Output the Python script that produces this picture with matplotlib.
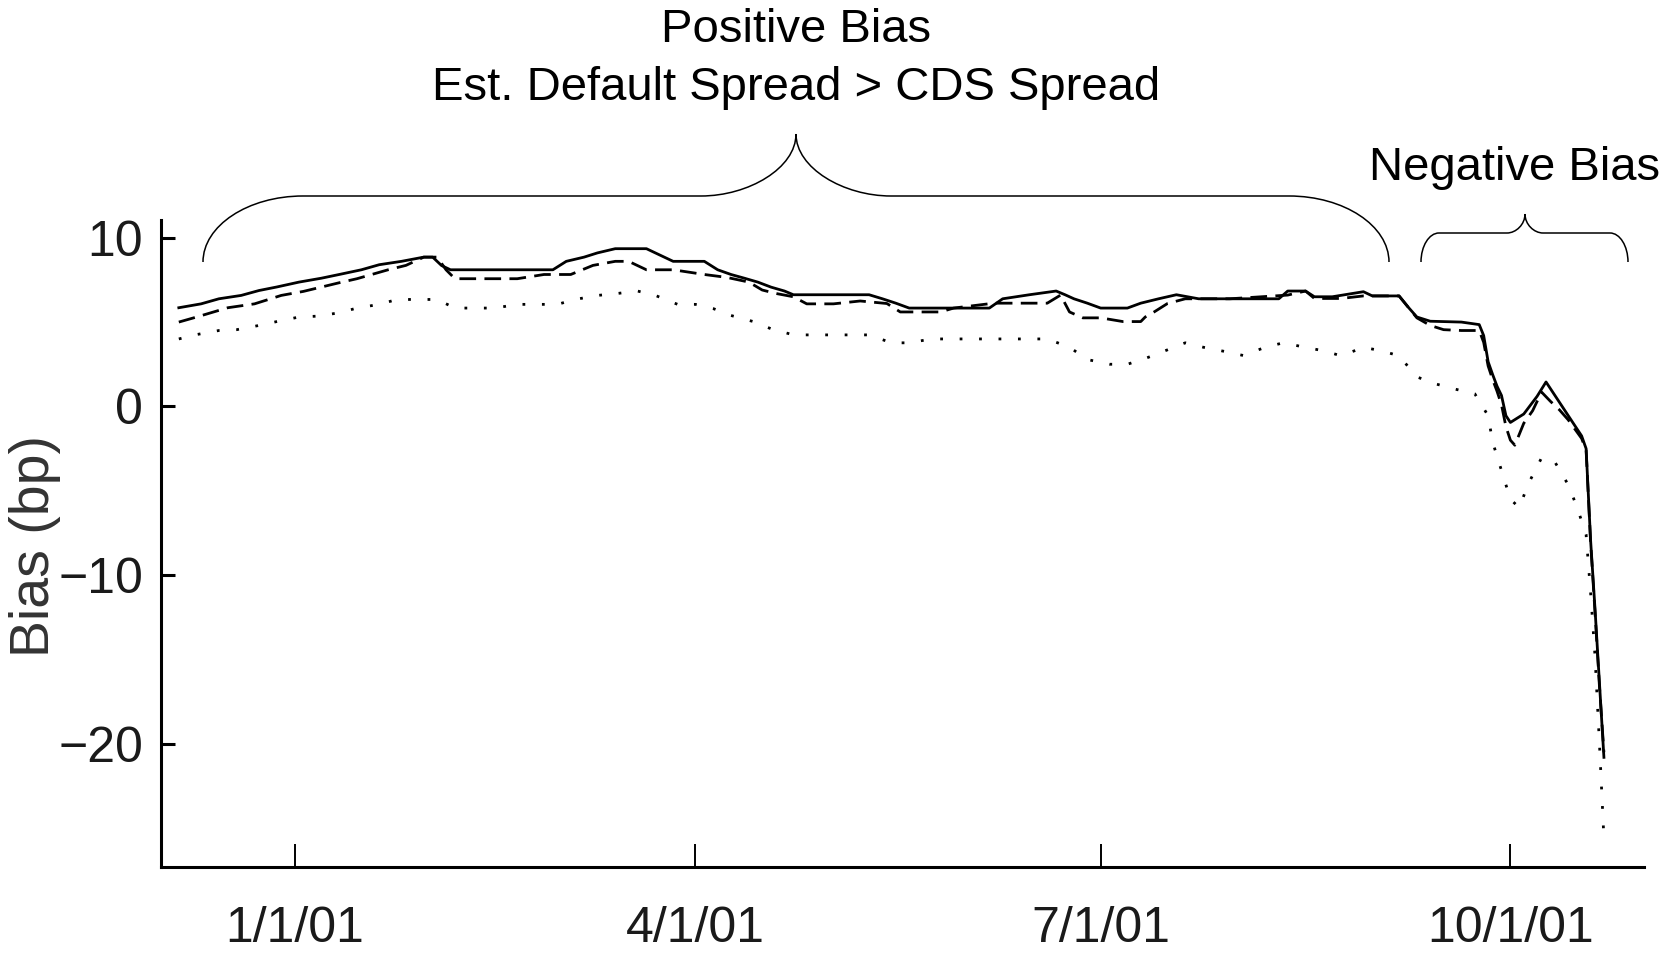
import matplotlib
matplotlib.use("Agg")
import matplotlib.pyplot as plt
from matplotlib.path import Path
from matplotlib.patches import PathPatch
import pandas as pd

# serie 1 (linha cheia)
solid_dates = ["2000-12-06", "2000-12-11", "2000-12-15", "2000-12-20", "2000-12-24", "2000-12-28",
               "2001-01-02", "2001-01-07", "2001-01-11", "2001-01-16", "2001-01-20", "2001-01-25",
               "2001-01-30", "2001-02-01", "2001-02-03", "2001-02-05", "2001-02-28", "2001-03-03",
               "2001-03-07", "2001-03-10", "2001-03-14", "2001-03-21", "2001-03-23", "2001-03-27",
               "2001-04-03", "2001-04-06", "2001-04-09", "2001-04-12", "2001-04-15", "2001-04-18",
               "2001-04-21", "2001-04-23", "2001-05-10", "2001-05-13", "2001-05-16", "2001-05-19",
               "2001-06-06", "2001-06-09", "2001-06-15", "2001-06-21", "2001-06-23", "2001-06-25",
               "2001-06-28", "2001-07-01", "2001-07-07", "2001-07-10", "2001-07-14", "2001-07-18",
               "2001-07-23", "2001-08-10", "2001-08-12", "2001-08-16", "2001-08-18", "2001-08-22",
               "2001-08-29", "2001-08-31", "2001-09-06", "2001-09-08", "2001-09-10", "2001-09-13",
               "2001-09-20", "2001-09-24", "2001-09-25", "2001-09-26", "2001-09-27", "2001-09-28",
               "2001-09-29", "2001-09-30", "2001-10-01", "2001-10-04", "2001-10-07", "2001-10-09",
               "2001-10-11", "2001-10-14", "2001-10-17", "2001-10-18", "2001-10-19", "2001-10-20",
               "2001-10-21", "2001-10-22"]
solid_bias = [5.85, 6.08, 6.38, 6.58, 6.87, 7.08,
              7.37, 7.6, 7.82, 8.1, 8.4, 8.6,
              8.85, 8.85, 8.35, 8.1, 8.1, 8.6,
              8.85, 9.1, 9.35, 9.35, 9.1, 8.6,
              8.6, 8.1, 7.82, 7.6, 7.37, 7.07,
              6.84, 6.62, 6.62, 6.38, 6.12, 5.83,
              5.83, 6.38, 6.62, 6.84, 6.62, 6.38,
              6.12, 5.83, 5.83, 6.12, 6.38, 6.62,
              6.38, 6.38, 6.84, 6.84, 6.5, 6.5,
              6.8, 6.55, 6.55, 5.9, 5.3, 5.05,
              5.0, 4.85, 4.2, 2.65, 1.9, 1.2,
              0.65, -0.55, -0.95, -0.45, 0.6, 1.45,
              0.65, -0.55, -1.75, -2.5, -7.9, -12.0,
              -16.4, -20.8]

# serie 2 (tracejada)
dashed_dates = ["2000-12-06", "2000-12-10", "2000-12-17", "2000-12-23", "2000-12-29", "2001-01-03",
                "2001-01-11", "2001-01-15", "2001-01-22", "2001-01-26", "2001-01-30", "2001-02-02",
                "2001-02-04", "2001-02-06", "2001-02-20", "2001-02-26", "2001-03-04", "2001-03-09",
                "2001-03-14", "2001-03-17", "2001-03-21", "2001-03-27", "2001-04-03", "2001-04-08",
                "2001-04-13", "2001-04-16", "2001-04-19", "2001-04-23", "2001-04-26", "2001-05-02",
                "2001-05-08", "2001-05-14", "2001-05-17", "2001-05-26", "2001-05-29", "2001-06-07",
                "2001-06-19", "2001-06-22", "2001-06-24", "2001-06-27", "2001-07-01", "2001-07-06",
                "2001-07-10", "2001-07-11", "2001-07-13", "2001-07-16", "2001-07-20", "2001-07-30",
                "2001-08-12", "2001-08-16", "2001-08-18", "2001-08-24", "2001-08-29", "2001-09-06",
                "2001-09-08", "2001-09-10", "2001-09-13", "2001-09-16", "2001-09-20", "2001-09-24",
                "2001-09-25", "2001-09-26", "2001-09-27", "2001-09-28", "2001-09-29", "2001-09-30",
                "2001-10-01", "2001-10-02", "2001-10-04", "2001-10-06", "2001-10-08", "2001-10-10",
                "2001-10-12", "2001-10-14", "2001-10-17", "2001-10-18", "2001-10-19", "2001-10-20",
                "2001-10-21", "2001-10-22"]
dashed_bias = [5.0, 5.3, 5.85, 6.08, 6.58, 6.82,
               7.33, 7.57, 8.1, 8.36, 8.85, 8.85,
               8.1, 7.57, 7.57, 7.82, 7.82, 8.36,
               8.6, 8.6, 8.1, 8.1, 7.82, 7.65,
               7.37, 6.9, 6.7, 6.5, 6.08, 6.08,
               6.25, 6.1, 5.6, 5.6, 5.83, 6.12,
               6.12, 6.6, 5.6, 5.25, 5.25, 5.03,
               5.03, 5.3, 5.6, 6.1, 6.38, 6.38,
               6.6, 6.84, 6.4, 6.4, 6.55, 6.55,
               5.9, 5.25, 4.8, 4.55, 4.5, 4.5,
               3.8, 2.4, 1.6, 0.9, 0.1, -1.2,
               -2.0, -2.3, -1.0, -0.25, 0.85, 0.3,
               -0.2, -0.8, -1.9, -2.6, -8.0, -12.2,
               -16.6, -20.5]

# serie 3 (pontilhada)
dotted_dates = ["2000-12-06", "2000-12-10", "2000-12-15", "2000-12-19", "2000-12-24", "2000-12-28",
                "2001-01-02", "2001-01-06", "2001-01-11", "2001-01-15", "2001-01-20", "2001-01-24",
                "2001-02-02", "2001-02-06", "2001-02-15", "2001-02-20", "2001-03-01", "2001-03-05",
                "2001-03-10", "2001-03-14", "2001-03-19", "2001-03-23", "2001-03-28", "2001-04-01",
                "2001-04-05", "2001-04-09", "2001-04-14", "2001-04-18", "2001-04-23", "2001-05-10",
                "2001-05-15", "2001-05-19", "2001-05-24", "2001-06-19", "2001-06-24", "2001-06-28",
                "2001-07-03", "2001-07-07", "2001-07-11", "2001-07-15", "2001-07-20", "2001-07-24",
                "2001-07-29", "2001-08-02", "2001-08-07", "2001-08-11", "2001-08-16", "2001-08-20",
                "2001-08-24", "2001-08-29", "2001-09-02", "2001-09-06", "2001-09-10", "2001-09-14",
                "2001-09-19", "2001-09-23", "2001-09-26", "2001-09-27", "2001-09-29", "2001-10-01",
                "2001-10-03", "2001-10-05", "2001-10-08", "2001-10-11", "2001-10-14", "2001-10-16",
                "2001-10-18", "2001-10-19", "2001-10-20", "2001-10-21", "2001-10-22"]
dotted_bias = [4.0, 4.26, 4.5, 4.55, 4.8, 5.03,
               5.3, 5.35, 5.55, 5.83, 6.05, 6.34,
               6.34, 5.83, 5.83, 6.05, 6.05, 6.34,
               6.58, 6.68, 6.84, 6.58, 6.05, 6.05,
               5.8, 5.39, 5.03, 4.6, 4.24, 4.24,
               3.77, 3.77, 4.0, 4.0, 3.51, 2.78,
               2.5, 2.5, 2.84, 3.25, 3.77, 3.51,
               3.25, 3.02, 3.51, 3.77, 3.5, 3.3,
               3.0, 3.5, 3.3, 3.0, 1.75, 1.35,
               1.0, 0.75, -0.55, -2.1, -3.8, -5.5,
               -6.0, -4.6, -3.05, -3.3, -4.65, -6.0,
               -7.6, -11.0, -14.8, -20.0, -25.6]

x_tick_dates = ["2001-01-01", "2001-04-01", "2001-07-01", "2001-10-01"]
x_tick_labels = ["1/1/01", "4/1/01", "7/1/01", "10/1/01"]
y_ticks = [10, 0, -10, -20]
y_tick_labels = ["10", "0", "\u221210", "\u221220"]

W, H = 1679, 957
NARROW = ["Liberation Sans Narrow", "Liberation Sans", "DejaVu Sans"]
ARIAL = ["Liberation Sans", "DejaVu Sans"]


# chave (brace) desenhada em pixels da figura, y para baixo
def draw_brace(fig, x0, x1, xc, y_end, y_bar, y_tip, r, s):
    pts = [(x0, y_end),
           (x0, y_end - 0.55 * (y_end - y_bar)), (x0 + 0.45 * r, y_bar), (x0 + r, y_bar),
           (xc - s, y_bar),
           (xc - 0.5 * s, y_bar), (xc, y_bar - 0.45 * (y_bar - y_tip)), (xc, y_tip),
           (xc, y_bar - 0.45 * (y_bar - y_tip)), (xc + 0.5 * s, y_bar), (xc + s, y_bar),
           (x1 - r, y_bar),
           (x1 - 0.45 * r, y_bar), (x1, y_end - 0.55 * (y_end - y_bar)), (x1, y_end)]
    codes = [Path.MOVETO,
             Path.CURVE4, Path.CURVE4, Path.CURVE4,
             Path.LINETO,
             Path.CURVE4, Path.CURVE4, Path.CURVE4,
             Path.CURVE4, Path.CURVE4, Path.CURVE4,
             Path.LINETO,
             Path.CURVE4, Path.CURVE4, Path.CURVE4]
    verts = [(px / W, 1 - py / H) for px, py in pts]
    patch = PathPatch(Path(verts, codes), transform=fig.transFigure, facecolor="none",
                      edgecolor="black", linewidth=1.1)
    fig.patches.append(patch)


def main():
    fig = plt.figure(figsize=(W / 100, H / 100), dpi=100)
    ax = fig.add_axes([161 / W, 1 - 867 / H, (1644 - 161) / W, (867 - 219.5) / H])

    ax.plot(pd.to_datetime(solid_dates), solid_bias, color="black", linewidth=2.0, linestyle="-")
    ax.plot(pd.to_datetime(dashed_dates), dashed_bias, color="black", linewidth=2.0,
            linestyle=(0, (6, 3)))
    ax.plot(pd.to_datetime(dotted_dates), dotted_bias, color="black", linewidth=2.0,
            linestyle=(0, (1, 6)))

    ax.set_xlim(pd.Timestamp("2000-12-02"), pd.Timestamp("2001-10-31"))
    ax.set_ylim(-27.3, 11.08)

    ax.set_xticks(pd.to_datetime(x_tick_dates))
    ax.set_xticklabels(x_tick_labels, family=NARROW, fontsize=36, color="#1a1a1a")
    ax.set_yticks(y_ticks)
    ax.set_yticklabels(y_tick_labels, family=NARROW, fontsize=36, color="#1a1a1a")

    for side in ["top", "right"]:
        ax.spines[side].set_visible(False)
    for side in ["left", "bottom"]:
        ax.spines[side].set_linewidth(2.2)
    ax.tick_params(axis="x", direction="in", length=16.5, width=1.4, pad=28)
    ax.tick_params(axis="y", direction="in", length=10, width=2.2, pad=13)

    fig.text(35 / W, 1 - 546 / H, "Bias (bp)", rotation=90, ha="center", va="center",
             family=ARIAL, fontsize=40, color="#333333")

    # anotacoes de vies
    fig.text(796 / W, 1 - 30 / H, "Positive Bias", ha="center", va="center",
             family=ARIAL, fontsize=34)
    fig.text(796 / W, 1 - 88 / H, "Est. Default Spread > CDS Spread", ha="center", va="center",
             family=ARIAL, fontsize=34)
    fig.text(1515 / W, 1 - 168 / H, "Negative Bias", ha="center", va="center",
             family=ARIAL, fontsize=34)

    draw_brace(fig, 203, 1389, 796, 262, 196, 134, 100, 95)
    draw_brace(fig, 1421, 1628, 1525, 262, 233, 214, 18, 18)

    fig.savefig("out.png", dpi=100)


if __name__ == "__main__":
    main()
